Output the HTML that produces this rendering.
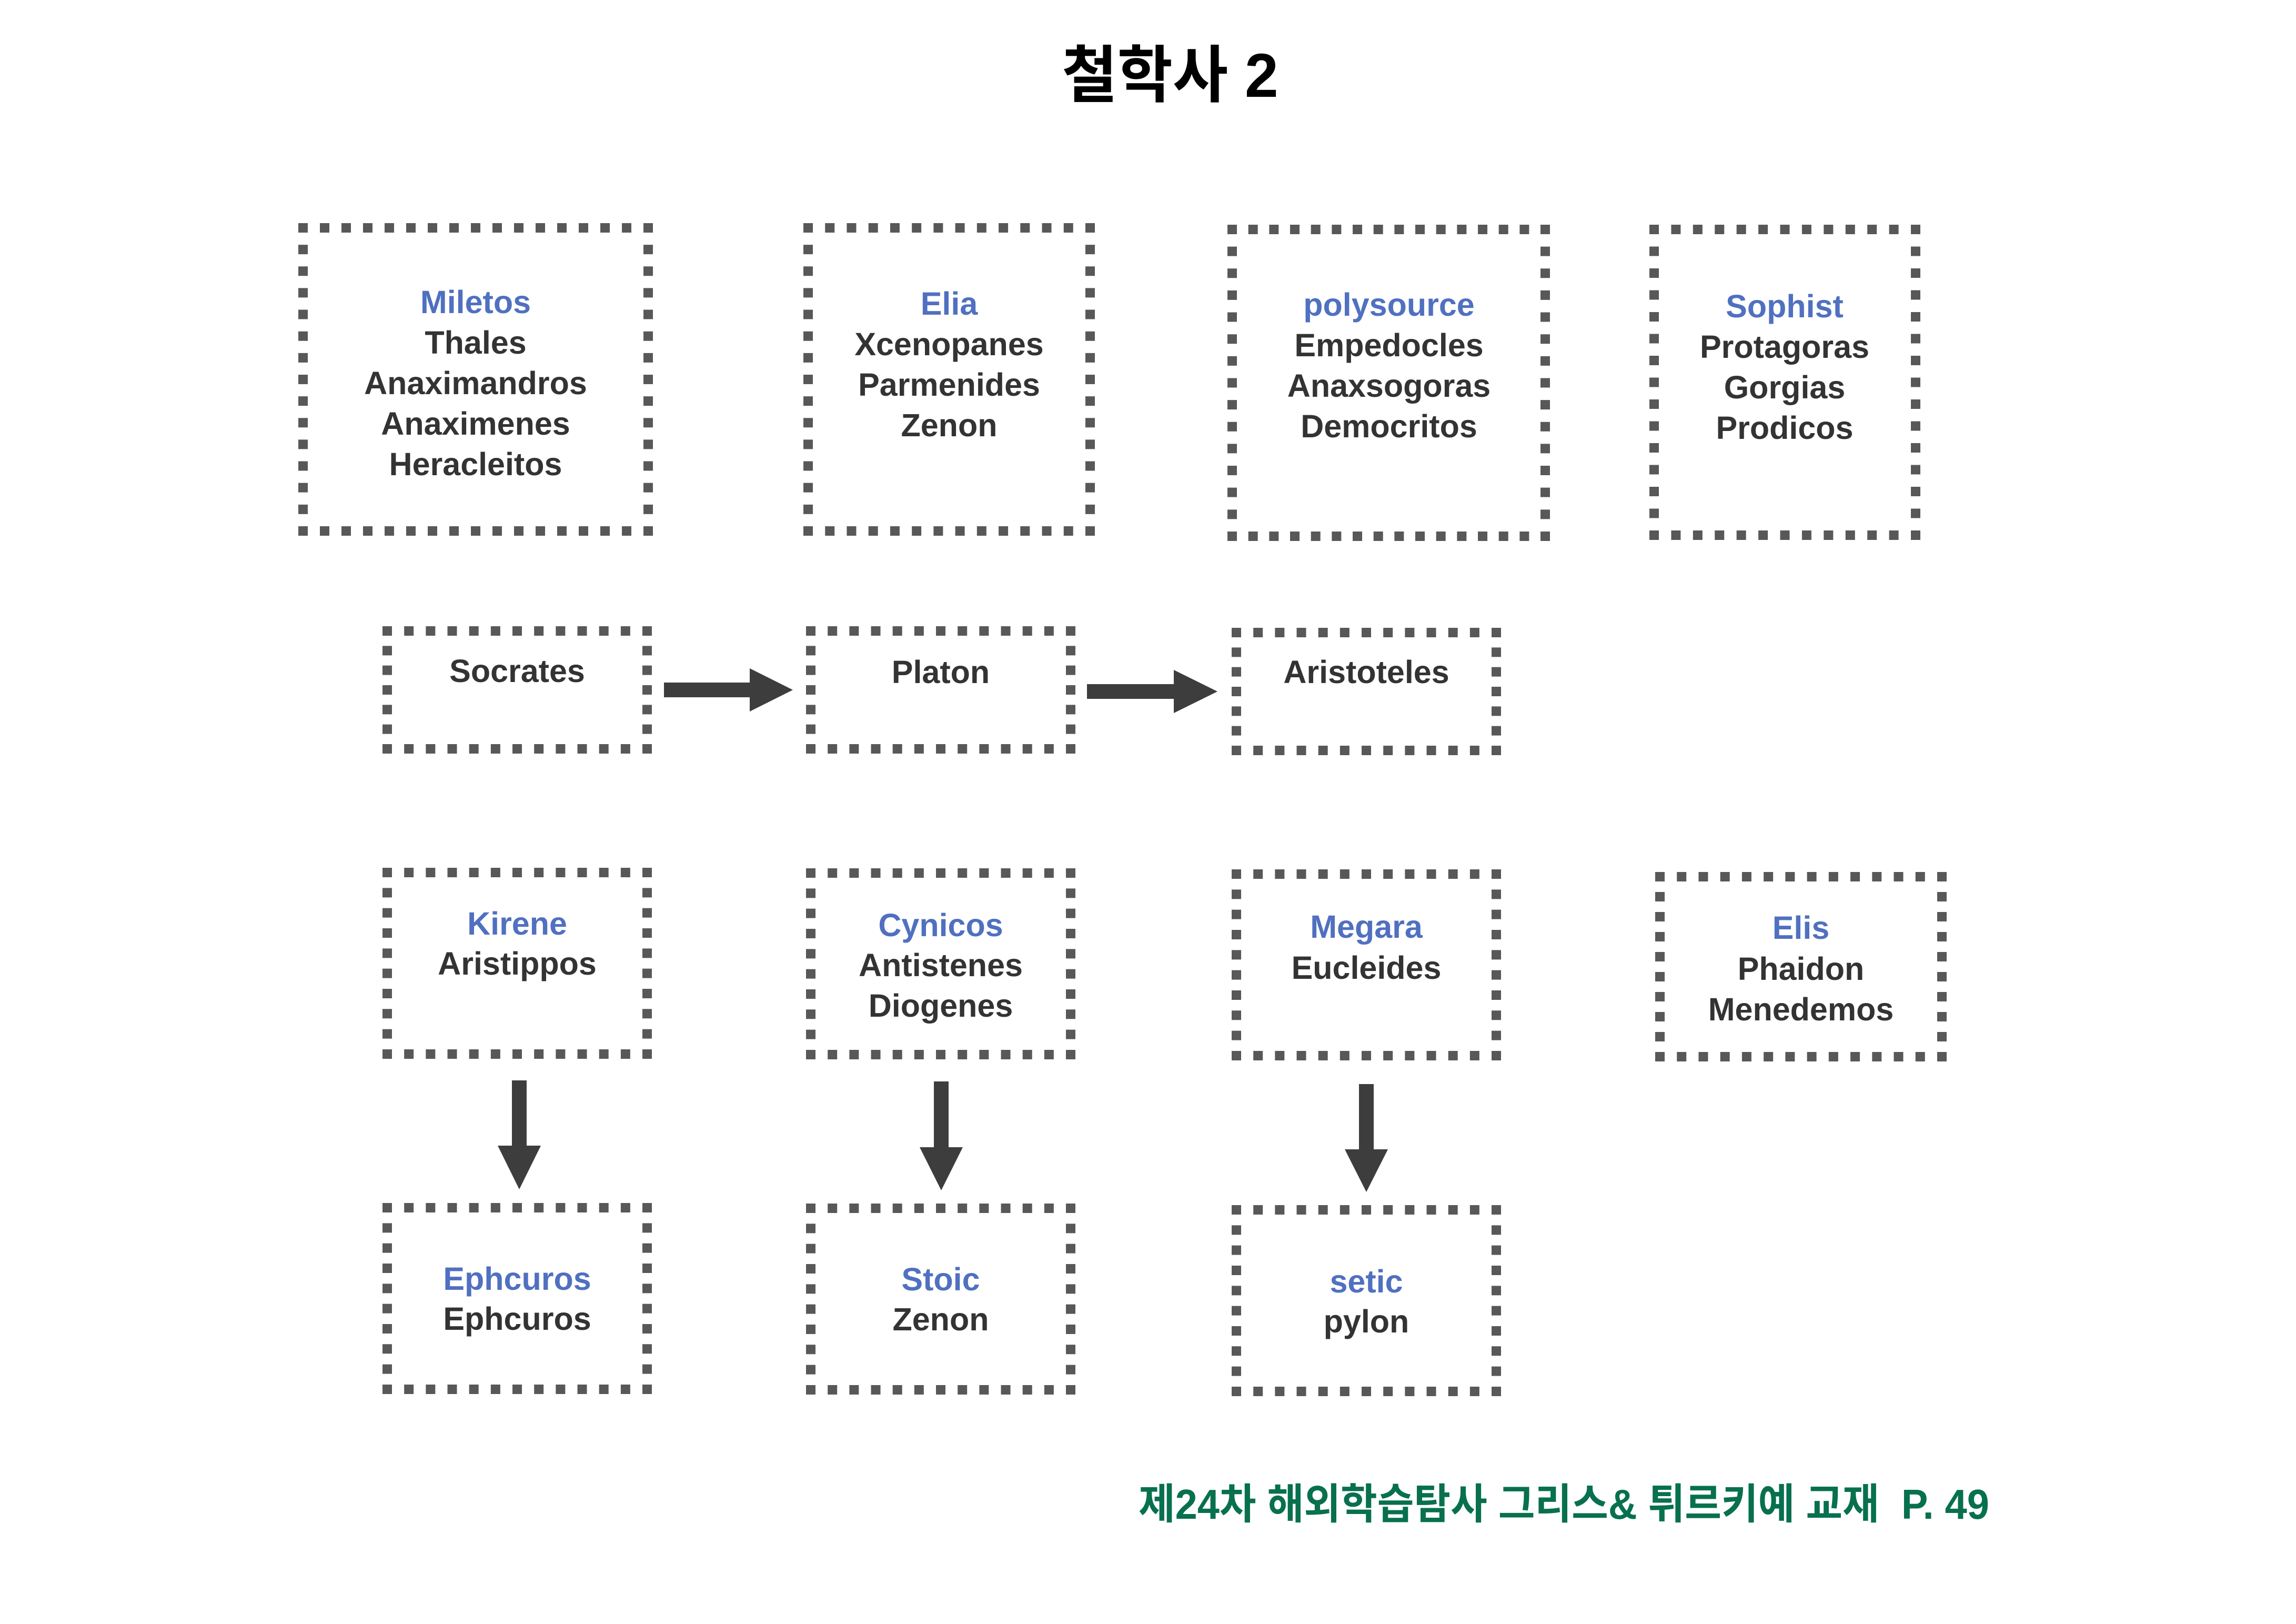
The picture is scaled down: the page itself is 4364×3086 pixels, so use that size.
<!DOCTYPE html>
<html>
<head>
<meta charset="utf-8">
<style>
  html,body{margin:0;padding:0;background:#fff;}
  body{width:4364px;height:3086px;overflow:hidden;}
  svg{display:block;}
  .d line{stroke:#585858;stroke-width:18;fill:none;stroke-linecap:butt;}
  .t{font-family:"Liberation Sans","Noto Sans CJK KR",sans-serif;font-weight:bold;font-size:61px;text-anchor:middle;fill:#333;}
  .b{fill:#5070c0;}
  .ar{fill:#3d3d3d;}
</style>
</head>
<body>
<svg width="4364" height="3086" viewBox="0 0 4364 3086" xmlns="http://www.w3.org/2000/svg">
  <rect width="4364" height="3086" fill="#fff"/>

  <!-- Title -->
  <text transform="translate(2224,184) scale(0.97,1)" x="0" y="0" text-anchor="middle"
        style="font-family:'Liberation Sans','Noto Sans CJK KR',sans-serif;font-weight:bold;font-size:118px;fill:#000;">철학사 2</text>

  <!-- ===== Row 1 boxes ===== -->
  <g class="d">
    <!-- Miletos 567,424,1241,1018 -->
    <line x1="567" y1="433" x2="1241" y2="433" stroke-dasharray="18 23"/>
    <line x1="567" y1="1009" x2="1241" y2="1009" stroke-dasharray="18 23"/>
    <line x1="576" y1="424" x2="576" y2="1018" stroke-dasharray="18 23.14"/>
    <line x1="1232" y1="424" x2="1232" y2="1018" stroke-dasharray="18 23.14"/>
    <!-- Elia 1527,424,2081,1018 -->
    <line x1="1527" y1="433" x2="2081" y2="433" stroke-dasharray="18 23.23"/>
    <line x1="1527" y1="1009" x2="2081" y2="1009" stroke-dasharray="18 23.23"/>
    <line x1="1536" y1="424" x2="1536" y2="1018" stroke-dasharray="18 23.14"/>
    <line x1="2072" y1="424" x2="2072" y2="1018" stroke-dasharray="18 23.14"/>
    <!-- polysource 2333,427,2946,1028 -->
    <line x1="2333" y1="436" x2="2946" y2="436" stroke-dasharray="18 21.67"/>
    <line x1="2333" y1="1019" x2="2946" y2="1019" stroke-dasharray="18 21.67"/>
    <line x1="2342" y1="427" x2="2342" y2="1028" stroke-dasharray="18 23.64"/>
    <line x1="2937" y1="427" x2="2937" y2="1028" stroke-dasharray="18 23.64"/>
    <!-- Sophist 3135,427,3650,1026 -->
    <line x1="3135" y1="436" x2="3650" y2="436" stroke-dasharray="18 23.42"/>
    <line x1="3135" y1="1017" x2="3650" y2="1017" stroke-dasharray="18 23.42"/>
    <line x1="3144" y1="427" x2="3144" y2="1026" stroke-dasharray="18 23.5"/>
    <line x1="3641" y1="427" x2="3641" y2="1026" stroke-dasharray="18 23.5"/>
  </g>

  <!-- ===== Row 2 boxes ===== -->
  <g class="d">
    <!-- Socrates 727,1190,1239,1432 -->
    <line x1="727" y1="1199" x2="1239" y2="1199" stroke-dasharray="18 23.17"/>
    <line x1="727" y1="1423" x2="1239" y2="1423" stroke-dasharray="18 23.17"/>
    <line x1="736" y1="1190" x2="736" y2="1432" stroke-dasharray="18 19.33"/>
    <line x1="1230" y1="1190" x2="1230" y2="1432" stroke-dasharray="18 19.33"/>
    <!-- Platon 1532,1190,2044,1432 -->
    <line x1="1532" y1="1199" x2="2044" y2="1199" stroke-dasharray="18 23.17"/>
    <line x1="1532" y1="1423" x2="2044" y2="1423" stroke-dasharray="18 23.17"/>
    <line x1="1541" y1="1190" x2="1541" y2="1432" stroke-dasharray="18 19.33"/>
    <line x1="2035" y1="1190" x2="2035" y2="1432" stroke-dasharray="18 19.33"/>
    <!-- Aristoteles 2341,1193,2853,1435 -->
    <line x1="2341" y1="1202" x2="2853" y2="1202" stroke-dasharray="18 23.17"/>
    <line x1="2341" y1="1426" x2="2853" y2="1426" stroke-dasharray="18 23.17"/>
    <line x1="2350" y1="1193" x2="2350" y2="1435" stroke-dasharray="18 19.33"/>
    <line x1="2844" y1="1193" x2="2844" y2="1435" stroke-dasharray="18 19.33"/>
  </g>

  <!-- ===== Row 3 boxes ===== -->
  <g class="d">
    <!-- Kirene 727,1649,1239,2012 -->
    <line x1="727" y1="1658" x2="1239" y2="1658" stroke-dasharray="18 23.17"/>
    <line x1="727" y1="2003" x2="1239" y2="2003" stroke-dasharray="18 23.17"/>
    <line x1="736" y1="1649" x2="736" y2="2012" stroke-dasharray="18 20.33"/>
    <line x1="1230" y1="1649" x2="1230" y2="2012" stroke-dasharray="18 20.33"/>
    <!-- Cynicos 1532,1650,2044,2013 -->
    <line x1="1532" y1="1659" x2="2044" y2="1659" stroke-dasharray="18 23.17"/>
    <line x1="1532" y1="2004" x2="2044" y2="2004" stroke-dasharray="18 23.17"/>
    <line x1="1541" y1="1650" x2="1541" y2="2013" stroke-dasharray="18 20.33"/>
    <line x1="2035" y1="1650" x2="2035" y2="2013" stroke-dasharray="18 20.33"/>
    <!-- Megara 2341,1652,2853,2015 -->
    <line x1="2341" y1="1661" x2="2853" y2="1661" stroke-dasharray="18 23.17"/>
    <line x1="2341" y1="2006" x2="2853" y2="2006" stroke-dasharray="18 23.17"/>
    <line x1="2350" y1="1652" x2="2350" y2="2015" stroke-dasharray="18 20.33"/>
    <line x1="2844" y1="1652" x2="2844" y2="2015" stroke-dasharray="18 20.33"/>
    <!-- Elis 3146,1657,3700,2017 -->
    <line x1="3146" y1="1666" x2="3700" y2="1666" stroke-dasharray="18 23.23"/>
    <line x1="3146" y1="2008" x2="3700" y2="2008" stroke-dasharray="18 23.23"/>
    <line x1="3155" y1="1657" x2="3155" y2="2017" stroke-dasharray="18 20"/>
    <line x1="3691" y1="1657" x2="3691" y2="2017" stroke-dasharray="18 20"/>
  </g>

  <!-- ===== Row 4 boxes ===== -->
  <g class="d">
    <!-- Ephcuros 727,2286,1239,2649 -->
    <line x1="727" y1="2295" x2="1239" y2="2295" stroke-dasharray="18 23.17"/>
    <line x1="727" y1="2640" x2="1239" y2="2640" stroke-dasharray="18 23.17"/>
    <line x1="736" y1="2286" x2="736" y2="2649" stroke-dasharray="18 20.33"/>
    <line x1="1230" y1="2286" x2="1230" y2="2649" stroke-dasharray="18 20.33"/>
    <!-- Stoic 1532,2287,2044,2650 -->
    <line x1="1532" y1="2296" x2="2044" y2="2296" stroke-dasharray="18 23.17"/>
    <line x1="1532" y1="2641" x2="2044" y2="2641" stroke-dasharray="18 23.17"/>
    <line x1="1541" y1="2287" x2="1541" y2="2650" stroke-dasharray="18 20.33"/>
    <line x1="2035" y1="2287" x2="2035" y2="2650" stroke-dasharray="18 20.33"/>
    <!-- setic 2341,2290,2853,2653 -->
    <line x1="2341" y1="2299" x2="2853" y2="2299" stroke-dasharray="18 23.17"/>
    <line x1="2341" y1="2644" x2="2853" y2="2644" stroke-dasharray="18 23.17"/>
    <line x1="2350" y1="2290" x2="2350" y2="2653" stroke-dasharray="18 20.33"/>
    <line x1="2844" y1="2290" x2="2844" y2="2653" stroke-dasharray="18 20.33"/>
  </g>

  <!-- ===== Arrows ===== -->
  <polygon class="ar" points="1262,1297 1425,1297 1425,1270 1507,1311 1425,1352 1425,1325 1262,1325"/>
  <polygon class="ar" points="2066,1300 2231,1300 2231,1273 2314,1314 2231,1355 2231,1328 2066,1328"/>
  <polygon class="ar" points="973,2053 1001,2053 1001,2177 1028,2177 987,2260 946,2177 973,2177"/>
  <polygon class="ar" points="1775,2055 1803,2055 1803,2180 1830,2180 1789,2262 1748,2180 1775,2180"/>
  <polygon class="ar" points="2583,2060 2611,2060 2611,2184 2638,2184 2597,2265 2556,2184 2583,2184"/>

  <!-- ===== Text Row 1 ===== -->
  <text class="t b" x="904" y="595">Miletos</text>
  <text class="t" x="904" y="672">Thales</text>
  <text class="t" x="904" y="749">Anaximandros</text>
  <text class="t" x="904" y="826">Anaximenes</text>
  <text class="t" x="904" y="903">Heracleitos</text>

  <text class="t b" x="1804" y="598">Elia</text>
  <text class="t" x="1804" y="675">Xcenopanes</text>
  <text class="t" x="1804" y="752">Parmenides</text>
  <text class="t" x="1804" y="829">Zenon</text>

  <text class="t b" x="2640" y="600">polysource</text>
  <text class="t" x="2640" y="677">Empedocles</text>
  <text class="t" x="2640" y="754">Anaxsogoras</text>
  <text class="t" x="2640" y="831">Democritos</text>

  <text class="t b" x="3392" y="603">Sophist</text>
  <text class="t" x="3392" y="680">Protagoras</text>
  <text class="t" x="3392" y="757">Gorgias</text>
  <text class="t" x="3392" y="834">Prodicos</text>

  <!-- ===== Text Row 2 ===== -->
  <text class="t" x="983" y="1296">Socrates</text>
  <text class="t" x="1788" y="1298">Platon</text>
  <text class="t" x="2597" y="1298">Aristoteles</text>

  <!-- ===== Text Row 3 ===== -->
  <text class="t b" x="983" y="1776">Kirene</text>
  <text class="t" x="983" y="1852">Aristippos</text>

  <text class="t b" x="1788" y="1779">Cynicos</text>
  <text class="t" x="1788" y="1855">Antistenes</text>
  <text class="t" x="1788" y="1932">Diogenes</text>

  <text class="t b" x="2597" y="1782">Megara</text>
  <text class="t" x="2597" y="1860">Eucleides</text>

  <text class="t b" x="3423" y="1784">Elis</text>
  <text class="t" x="3423" y="1862">Phaidon</text>
  <text class="t" x="3423" y="1939">Menedemos</text>

  <!-- ===== Text Row 4 ===== -->
  <text class="t b" x="983" y="2451">Ephcuros</text>
  <text class="t" x="983" y="2527">Ephcuros</text>

  <text class="t b" x="1788" y="2452">Stoic</text>
  <text class="t" x="1788" y="2528">Zenon</text>

  <text class="t b" x="2597" y="2456">setic</text>
  <text class="t" x="2597" y="2532">pylon</text>

  <!-- Footer -->
  <text transform="translate(2164,2886) scale(0.947,1)" x="0" y="0" text-anchor="start" xml:space="preserve"
        style="font-family:'Liberation Sans','Noto Sans CJK KR',sans-serif;font-weight:bold;font-size:80px;fill:#08704e;">제24차 해외학습탐사 그리스&amp; 튀르키예 교재  P. 49</text>
</svg>
</body>
</html>
